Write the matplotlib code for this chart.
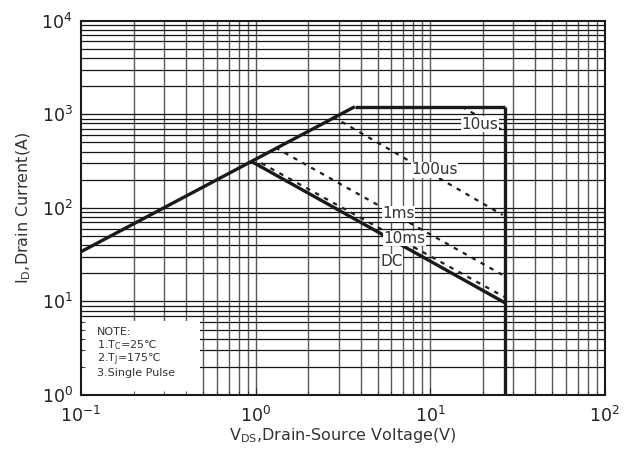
import matplotlib
matplotlib.use("Agg")
import matplotlib.pyplot as plt
from matplotlib.patches import Rectangle

plt.rcParams['font.family'] = ['DejaVu Sans']
plt.rcParams['mathtext.fontset'] = 'dejavusans'
plt.rcParams['mathtext.default'] = 'regular'

# granice obszaru SOA (V, A)
rds_v = [0.1, 3.7]
rds_i = [34, 1205]
imax_v = [3.7, 27]
imax_i = [1205, 1205]
vmax_v = [27, 27]
vmax_i = [1205, 1]
dc_v = [0.95, 27]
dc_i = [312, 9.6]

# linie impulsowe
impulsy = {
    "10us": ([15.2, 27], [1205, 647]),
    "100us": ([2.77, 26], [942, 84]),
    "1ms": ([1.3, 26], [440, 19.2]),
    "10ms": ([1.08, 26.5], [300, 11.2]),
}
etykiety = ["10us", "100us", "1ms", "10ms", "DC"]
etykiety_v = [19.3, 10.6, 6.6, 7.1, 6.0]
etykiety_i = [780, 255, 86, 47, 26.5]

notatka = ["NOTE:", "1.T$_C$=25℃", "2.T$_J$=175℃", "3.Single Pulse"]

fig = plt.figure(figsize=(6.28, 4.65), dpi=100)
ax = fig.add_axes([0.129, 0.1505, 0.834, 0.805])
ax.set_xscale('log')
ax.set_yscale('log')
ax.set_xlim(0.1, 100)
ax.set_ylim(1, 1e4)

# siatka rysowana recznie, zeby ramka z notatka mogla ja zaslonic
for dek in [0.1, 1, 10]:
    for k in range(1, 10):
        if dek * k > 0.1:
            ax.axvline(dek * k, color='#5a5a5a', lw=1.0, zorder=1)
for dek in [1, 10, 100, 1000]:
    for k in range(1, 10):
        if dek * k > 1:
            ax.axhline(dek * k, color='#151515', lw=0.9, zorder=1)

ax.add_patch(Rectangle((0.003, 0.0), 0.224, 0.198, transform=ax.transAxes,
                       facecolor='white', edgecolor='none', zorder=1.5))

kolor = '#1a1a1a'
for v, i in [(rds_v, rds_i), (imax_v, imax_i), (vmax_v, vmax_i), (dc_v, dc_i)]:
    ax.plot(v, i, color=kolor, lw=2.4, solid_capstyle='butt', zorder=4)

for nazwa, (v, i) in impulsy.items():
    ax.plot(v, i, color='#1e1e1e', lw=1.6, linestyle=(0, (2.0, 2.6)), zorder=3)

for txt, x, y in zip(etykiety, etykiety_v, etykiety_i):
    ax.text(x, y, txt, fontsize=11, color='#333333', ha='center', va='center', zorder=5,
            bbox=dict(facecolor='white', edgecolor='none', pad=0.3))

for k, linia in enumerate(notatka):
    ax.text(0.03, 0.160 - k * 0.036, linia, transform=ax.transAxes, fontsize=8,
            color='#333333', va='baseline', ha='left', zorder=5)

ax.tick_params(which='both', direction='in', colors='#222222', labelsize=12.5)
ax.tick_params(which='major', length=5)
ax.tick_params(which='minor', length=3)
ax.tick_params(axis='x', pad=8)
ax.tick_params(axis='y', pad=6)
for s in ax.spines.values():
    s.set_linewidth(1.5)
    s.set_color('#1a1a1a')
    s.set_zorder(6)

ax.set_xlabel("V$_{DS}$,Drain-Source Voltage(V)", fontsize=11.5, color='#333333', labelpad=0)
ax.set_ylabel("I$_D$,Drain Current(A)", fontsize=11.5, color='#333333', labelpad=6)

fig.savefig("out.png", dpi=100)
